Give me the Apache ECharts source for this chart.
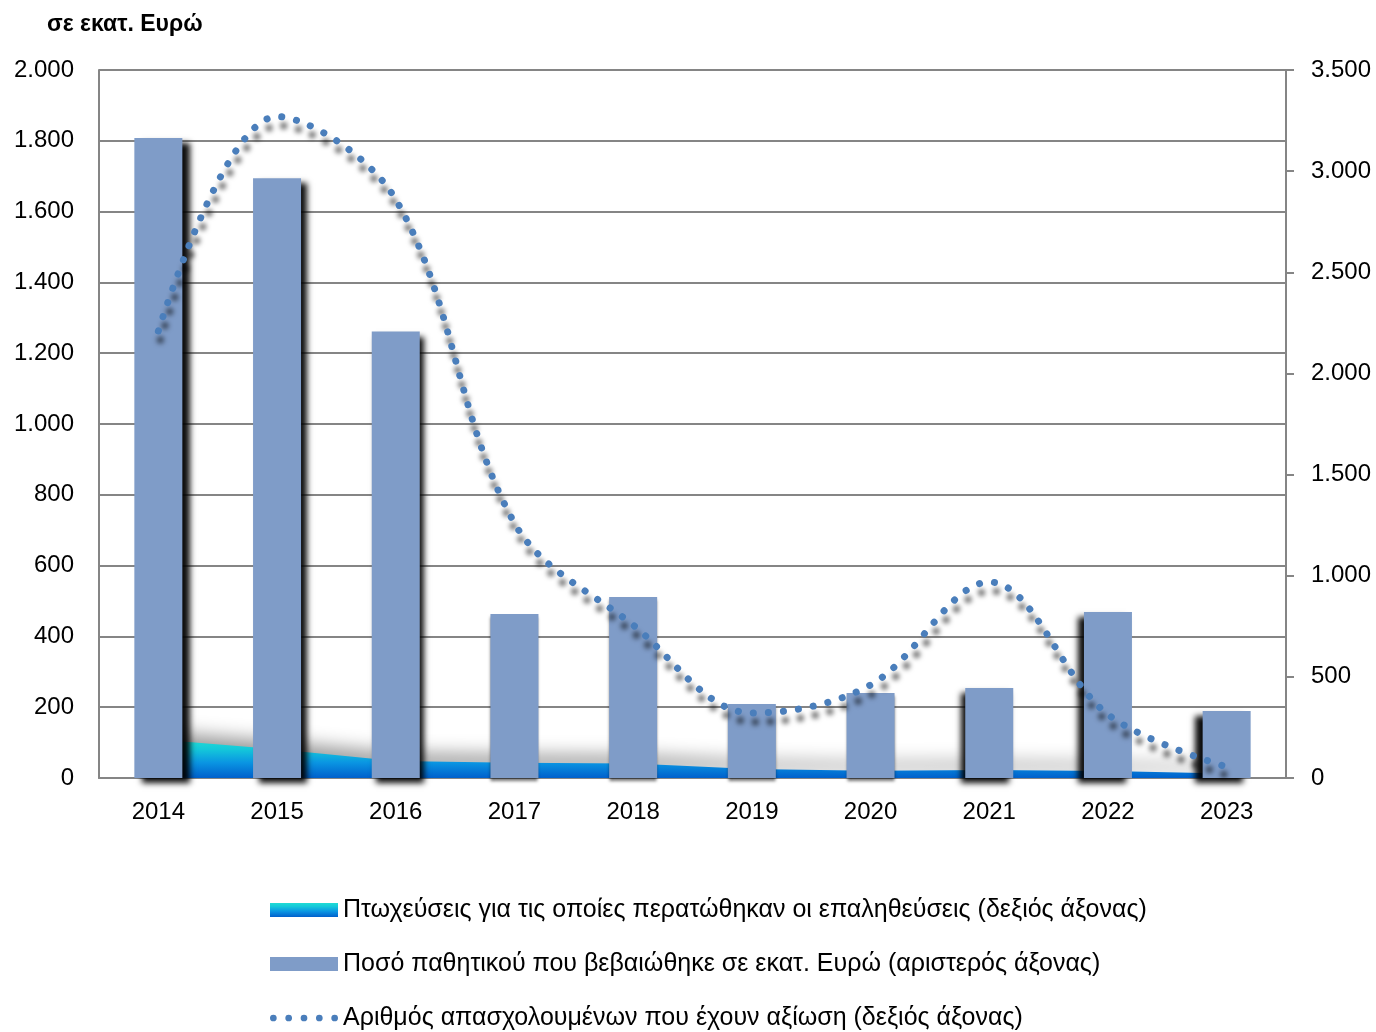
<!DOCTYPE html>
<html>
<head>
<meta charset="utf-8">
<script src="https://cdn.jsdelivr.net/npm/echarts@6/dist/echarts.min.js"></script>
<style>
html,body{margin:0;padding:0;background:#fff;}
#chart{width:1376px;height:1032px;}
</style>
</head>
<body>
<div id="chart"></div>
<script>
// ---- data ----
var years = ['2014','2015','2016','2017','2018','2019','2020','2021','2022','2023'];
var liabilities = [1808, 1694, 1261, 463, 511, 209, 240, 254, 469, 189];      // left axis, € million
var employees = [2210, 3270, 2860, 1260, 756, 321, 460, 969, 314, 55];       // right axis
var bankruptcies = [190, 142, 84, 76, 72, 45, 36, 40, 34, 22];               // right axis
var leftTicks = [0, 2000, 200];
var rightTicks = [0, 3500, 500];
var nameArea = 'Πτωχεύσεις για τις οποίες περατώθηκαν οι επαληθεύσεις (δεξιός άξονας)';
var nameBar = 'Ποσό παθητικού που βεβαιώθηκε σε εκατ. Ευρώ (αριστερός άξονας)';
var nameLine = 'Αριθμός απασχολουμένων που έχουν αξίωση (δεξιός άξονας)';
var titleText = 'σε εκατ. Ευρώ';

// ---- styles ----
var FONT = 'Liberation Sans';
var GRID = '#858585';
var BAR = '#7F9CC8';
var LINE = '#4A7EBB';
function fmt(v){ return String(v).replace(/\B(?=(\d{3})+(?!\d))/g, '.'); }
function areaGrad(){
  return new echarts.graphic.LinearGradient(0,0,0,1,[
    {offset:0, color:'#20DCD4'},
    {offset:0.25, color:'#14C8DA'},
    {offset:0.6, color:'#0A95E2'},
    {offset:1, color:'#0060CC'}
  ]);
}
var barData = liabilities.map(function(v,i){
  var ox = (4.5 - i) * 1.6;
  var strong = Math.abs(ox) >= 3;
  return {value:v, itemStyle:{
    shadowColor: strong ? 'rgba(0,0,0,0.95)' : 'rgba(0,0,0,0.55)',
    shadowBlur: strong ? 6 : 3,
    shadowOffsetX: strong ? ox : 0,
    shadowOffsetY: strong ? 5 : 3
  }};
});
var dots = '';
for (var k=0;k<5;k++){ var cx = k*16; dots += 'M'+cx+',3.5a3.5,3.5 0 1,0 7,0a3.5,3.5 0 1,0 -7,0Z'; }

function legendAt(top, item){
  return {
    left: 270, top: top, orient:'vertical', padding:0,
    itemWidth: 68, itemHeight: 14,
    selectedMode:false,
    textStyle:{fontFamily:FONT, fontSize:25, color:'#000', lineHeight:28},
    data:[item]
  };
}

var chart = echarts.init(document.getElementById('chart'), null, {renderer:'canvas'});
chart.setOption({
  animation:false,
  backgroundColor:'#fff',
  title:{text:titleText, left:42, top:8,
    textStyle:{fontFamily:FONT, fontSize:23, fontWeight:'bold', color:'#000'}},
  grid:{left:99, right:90, top:70, bottom:254, containLabel:false},
  legend:[
    legendAt(896, {name:nameArea, icon:'rect', itemStyle:{color:areaGrad()}}),
    legendAt(950, {name:nameBar, icon:'rect', itemStyle:{color:BAR}}),
    legendAt(1004, {name:nameLine, icon:'path://'+dots, itemStyle:{color:LINE}})
  ],
  xAxis:{
    type:'category', data:years, boundaryGap:true,
    axisLine:{show:true, lineStyle:{color:GRID, width:2}},
    axisTick:{show:false},
    axisLabel:{fontFamily:FONT, fontSize:24, color:'#000', margin:22}
  },
  yAxis:[
    {type:'value', min:leftTicks[0], max:leftTicks[1], interval:leftTicks[2], position:'left',
     axisLine:{show:true, lineStyle:{color:GRID, width:2}},
     axisTick:{show:false},
     splitLine:{show:true, lineStyle:{color:GRID, width:2}},
     axisLabel:{fontFamily:FONT, fontSize:24, color:'#000', margin:25, formatter:fmt}},
    {type:'value', min:rightTicks[0], max:rightTicks[1], interval:rightTicks[2], position:'right',
     axisLine:{show:true, lineStyle:{color:GRID, width:2}},
     axisTick:{show:true, length:8, lineStyle:{color:GRID, width:2}},
     splitLine:{show:false},
     axisLabel:{fontFamily:FONT, fontSize:24, color:'#000', margin:25, formatter:fmt}}
  ],
  series:[
    {name:nameArea, type:'line', yAxisIndex:1, data:bankruptcies, symbol:'none', smooth:false,
     lineStyle:{width:0}, itemStyle:{color:'#0A9BE0'},
     areaStyle:{color:areaGrad(), opacity:1, shadowColor:'rgba(0,0,0,0.4)', shadowBlur:18, shadowOffsetY:-8},
     z:1},
    {name:nameBar, type:'bar', yAxisIndex:0, data:barData, barWidth:48,
     itemStyle:{color:BAR}, z:2},
    {name:nameLine, type:'line', yAxisIndex:1, data:employees, symbol:'none', smooth:0.35,
     itemStyle:{color:LINE},
     lineStyle:{color:LINE, width:7, type:[0.1,15], cap:'round',
       shadowColor:'rgba(0,0,0,0.6)', shadowBlur:5, shadowOffsetX:2, shadowOffsetY:9},
     z:3}
  ]
});
</script>
</body>
</html>
